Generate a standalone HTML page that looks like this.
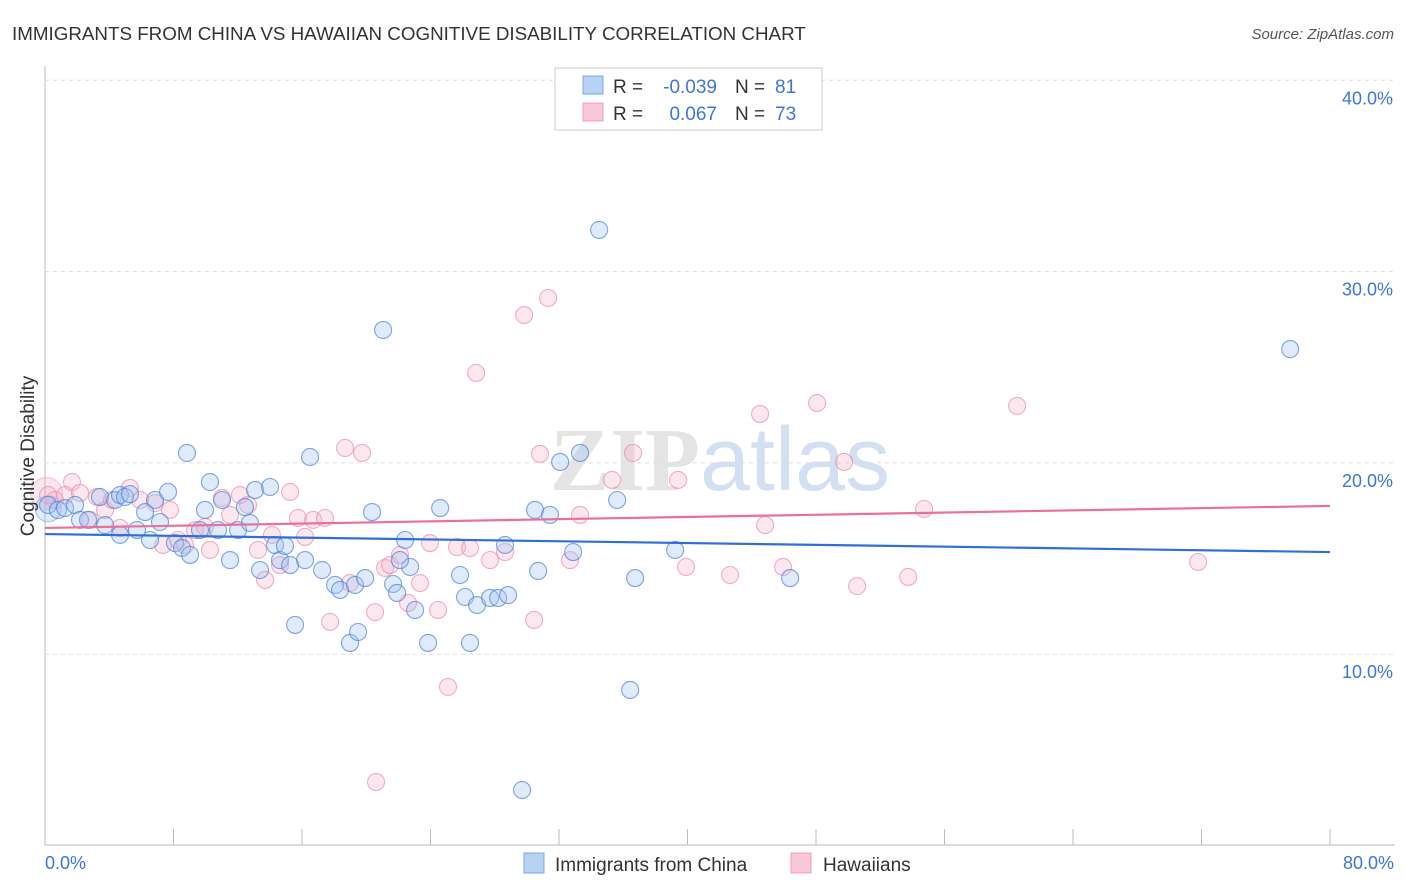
<!DOCTYPE html>
<html><head><meta charset="utf-8"><style>
body{margin:0;background:#fff;font-family:"Liberation Sans",sans-serif;}
svg{display:block}
</style></head><body>
<svg id="chart" width="1406" height="892">
<text x="12" y="40" font-size="18.8" fill="#333">IMMIGRANTS FROM CHINA VS HAWAIIAN COGNITIVE DISABILITY CORRELATION CHART</text>
<text x="1394" y="39" font-size="15" fill="#555" font-style="italic" text-anchor="end">Source: ZipAtlas.com</text>
<text x="720" y="490" font-size="90" fill="#e4e4e4" text-anchor="middle" font-family="Liberation Serif,serif" font-weight="bold">ZIP<tspan fill="#d3e0f2" font-family="Liberation Sans,sans-serif" font-weight="normal">atlas</tspan></text>
<g id="grid"></g>
<g id="marks"></g>
<text transform="translate(34,456) rotate(-90)" font-size="19" fill="#333" text-anchor="middle">Cognitive Disability</text>
<text x="45" y="869" font-size="18" fill="#3d76d6">0.0%</text>
<text x="1394" y="869" font-size="18" fill="#3d76d6" text-anchor="end">80.0%</text>
<g>
<rect x="555" y="68" width="267" height="62" fill="#fff" stroke="#ccc"/>
<rect x="583" y="76" width="20" height="18" fill="#b8d2f4" stroke="#7aa7e6"/>
<rect x="583" y="103" width="20" height="18" fill="#f9c6d6" stroke="#f0a0bd"/>
<text x="613" y="93" font-size="19" fill="#333">R =</text>
<text x="717" y="93" font-size="19" fill="#3d76d6" text-anchor="end">-0.039</text>
<text x="735" y="93" font-size="19" fill="#333">N =</text>
<text x="775" y="93" font-size="19" fill="#3d76d6">81</text>
<text x="613" y="120" font-size="19" fill="#333">R =</text>
<text x="717" y="120" font-size="19" fill="#3d76d6" text-anchor="end">0.067</text>
<text x="735" y="120" font-size="19" fill="#333">N =</text>
<text x="775" y="120" font-size="19" fill="#3d76d6">73</text>
</g>
<g>
<rect x="524" y="853" width="20" height="20" fill="#b8d2f4" stroke="#7aa7e6"/>
<text x="555" y="871" font-size="19" fill="#333">Immigrants from China</text>
<rect x="791" y="853" width="20" height="20" fill="#f9c6d6" stroke="#f0a0bd"/>
<text x="823" y="871" font-size="19" fill="#333">Hawaiians</text>
</g>
</svg>
<script>
const yTicks=[10,20,30,40];
const xTicks=[0,8,16,24,32,40,48,56,64,72,80];
const blueX=[.19,.81,1.25,1.87,2.18,2.68,3.42,3.74,4.36,4.67,4.98,5.29,5.73,6.23,6.54,6.85,7.16,7.66,8.09,8.53,8.84,9.03,9.65,9.96,10.27,10.77,11.02,11.52,12.02,12.45,12.76,13.08,13.39,14.01,14.32,14.63,14.94,15.26,15.57,16.19,16.5,17.25,18.06,18.37,18.99,19.3,19.49,19.93,20.36,21.05,21.67,21.92,22.42,22.73,23.04,23.85,24.6,25.84,26.15,26.46,26.9,27.71,28.21,28.64,28.83,30.51,30.7,31.44,32.07,32.88,33.31,34.5,35.62,36.43,36.74,39.23,46.39,77.52,29.7,22.1,4.67];
const blueY=[17.8,17.54,17.64,17.8,17.02,17.02,18.22,16.75,18.06,18.32,18.22,18.37,16.49,17.43,15.97,18.06,16.91,18.48,15.81,15.55,20.52,15.19,16.49,17.54,19.0,16.49,18.06,14.92,16.49,17.69,16.86,18.58,14.4,18.74,15.71,14.92,15.66,14.66,11.53,14.92,20.31,14.4,13.62,13.36,10.59,13.62,11.16,13.98,17.43,26.95,13.67,13.2,15.97,14.56,12.31,10.59,17.64,14.14,12.99,10.59,12.57,12.94,12.94,15.71,13.09,17.54,14.35,17.28,20.05,15.34,20.52,32.18,18.06,8.13,13.98,15.45,13.98,25.95,2.9,14.92,16.24];
const pinkX=[.19,.62,1.25,1.68,2.18,2.8,3.24,3.74,4.17,4.67,5.29,5.92,6.85,7.35,7.78,8.28,8.72,9.34,9.96,10.27,11.02,11.52,12.14,12.64,13.26,13.7,14.13,14.63,15.26,15.75,16.19,16.69,17.43,17.75,18.68,18.99,19.74,20.55,21.17,21.48,22.1,22.6,23.35,23.97,24.47,25.09,25.65,26.84,27.71,28.64,29.83,30.45,30.82,31.32,32.69,33.31,35.31,36.61,39.41,39.91,42.65,44.52,44.83,45.95,48.07,49.75,50.56,53.74,54.73,60.52,71.79,20.61,26.46];
const pinkY=[18.32,18.06,18.32,19.0,18.43,17.02,18.22,17.54,18.06,16.6,18.69,18.06,17.9,15.71,17.54,15.97,15.71,16.49,16.65,15.45,18.17,17.28,18.32,17.8,15.45,13.88,16.23,14.66,18.48,17.12,16.13,17.02,17.12,11.69,20.78,13.72,20.52,12.2,14.51,14.66,15.19,12.68,13.72,15.81,12.31,8.29,15.6,24.7,14.92,15.34,27.73,11.79,20.47,28.62,14.92,17.28,19.11,20.52,19.11,14.56,14.14,22.56,16.75,14.56,23.13,20.05,13.56,14.04,17.59,22.98,14.82,3.32,15.55];
const blueTrend=[16.28,15.34];
const pinkTrend=[16.6,17.75];
const NS='http://www.w3.org/2000/svg';
const xs=v=>45+v*1285/80, ys=v=>845.5-v*19.13;
function mk(tag,parent,attrs){const e=document.createElementNS(NS,tag);for(const k in attrs)e.setAttribute(k,attrs[k]);parent.appendChild(e);return e;}
const grid=document.getElementById('grid'), marks=document.getElementById('marks');
let ax=mk('line',grid,{x1:45,y1:66,x2:45,y2:845,stroke:'#bbb'});


let bx=mk('line',grid,{x1:45,y1:845,x2:1395,y2:845,stroke:'#bbb'});


yTicks.forEach(t=>{
 const l=mk('line',grid,{x1:45,y1:ys(t),x2:1395,y2:ys(t),stroke:'#ddd','stroke-dasharray':'4,4'});
 
 
 const tx=mk('text',grid,{x:1393,y:ys(t)+24,'font-size':18,fill:'#3d76d6','text-anchor':'end'});
 tx.textContent=t.toFixed(1)+'%';
 
 
});
xTicks.forEach(t=>{
 const l=mk('line',grid,{x1:xs(t),y1:829,x2:xs(t),y2:845,stroke:'#bbb'});
 
 
});
function big(x,y,r,f,s,name){const c=mk('circle',marks,{cx:xs(x),cy:ys(y),r:r,fill:f,stroke:s,'stroke-width':1.2});
 
 }
big(0.1,18.4,16,'rgba(246,176,200,0.3)','rgba(240,160,189,0.5)','hawaiians-large-point');
big(0.2,17.6,13,'rgba(164,196,240,0.35)','rgba(100,150,225,0.5)','china-large-point');
pinkX.forEach((x,i)=>{const c=mk('circle',marks,{cx:xs(x),cy:ys(pinkY[i]),r:8.5,fill:'rgba(246,176,200,0.3)',stroke:'rgba(236,140,175,0.7)','stroke-width':1.1});
 
 });
blueX.forEach((x,i)=>{const c=mk('circle',marks,{cx:xs(x),cy:ys(blueY[i]),r:8.5,fill:'rgba(164,196,240,0.35)',stroke:'rgba(70,130,220,0.7)','stroke-width':1.1});
 
 });
let tb=mk('line',marks,{x1:xs(0),y1:ys(blueTrend[0]),x2:xs(80),y2:ys(blueTrend[1]),stroke:'#2f6fd6','stroke-width':2.2});


let tp=mk('line',marks,{x1:xs(0),y1:ys(pinkTrend[0]),x2:xs(80),y2:ys(pinkTrend[1]),stroke:'#e8709a','stroke-width':2.2});


</script>
</body></html>
